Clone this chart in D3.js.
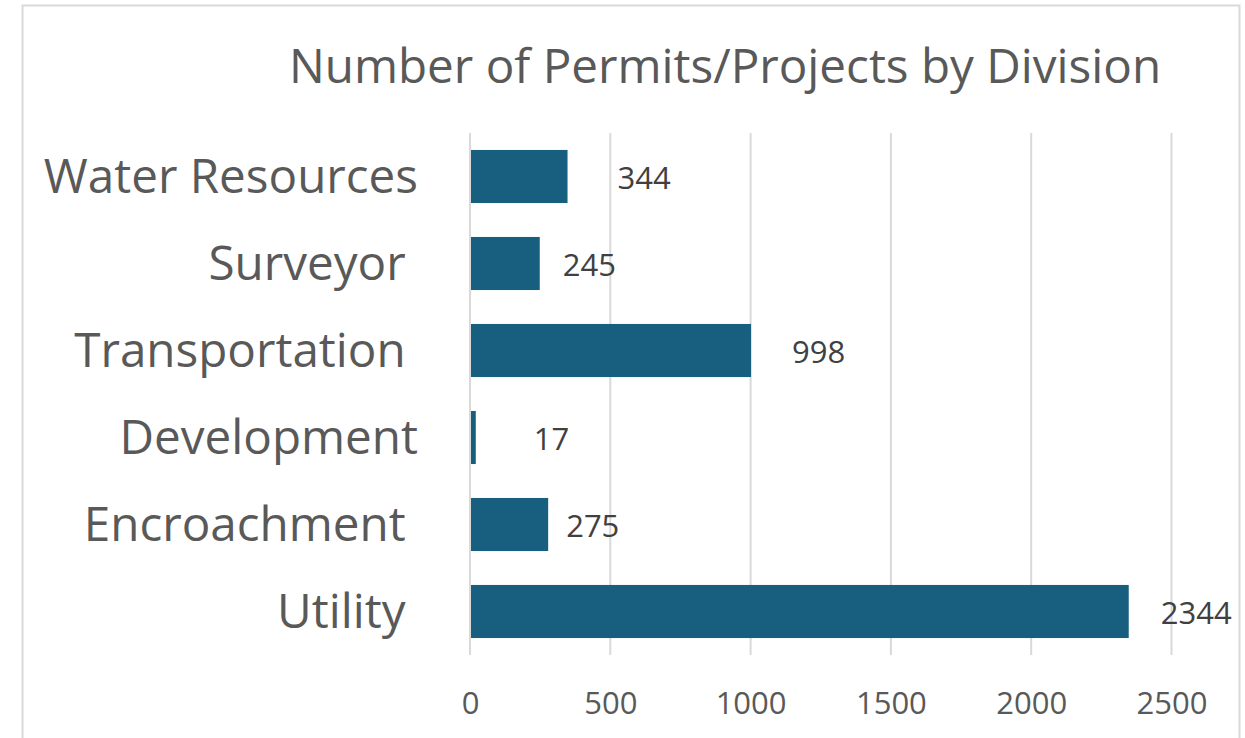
<!DOCTYPE html>
<html>
<head>
<meta charset="utf-8">
<script src="https://cdn.jsdelivr.net/npm/d3@7"></script>
<style>
  body { margin: 0; background: #fff; }
  svg text { font-family: "Open Sans", sans-serif; white-space: pre; }
</style>
</head>
<body>
<div id="chart"></div>
<script>
// data (top to bottom)
var divisions = ["Water Resources", "Surveyor ", "Transportation ", "Development", "Encroachment ", "Utility "];
var permits = [344, 245, 998, 17, 275, 2344];
var xTicks = [0, 500, 1000, 1500, 2000, 2500];
var title = "Number of Permits/Projects by Division";
// data labels were dragged by hand in the original, gap from bar end in px
var labelGap = [51, 24, 42, 59, 19, 33];

var svgwidth = 1245,
    svgheight = 738,
    margin = {top: 133, right: 73, bottom: 83, left: 470};

var width = svgwidth - margin.left - margin.right,
    height = svgheight - margin.top - margin.bottom;

var svg = d3.select("#chart")
    .append("svg")
    .attr("width", svgwidth)
    .attr("height", svgheight);

// chart frame
svg.append("rect")
    .attr("x", 22.5)
    .attr("y", 5.5)
    .attr("width", 1217)
    .attr("height", 760)
    .attr("fill", "none")
    .attr("stroke", "#d9d9d9")
    .attr("stroke-width", 2);

var g = svg.append("g").attr("transform", "translate(" + margin.left + "," + margin.top + ")");

var x = d3.scaleLinear().domain([0, 2500]).range([0, 701.5]);
var y = d3.scaleBand().domain(divisions).range([0, height]).paddingInner(0.39).paddingOuter(0.195);

// gridlines
g.append("g")
    .attr("class", "grid")
    .selectAll("line")
    .data(xTicks)
    .enter().append("line")
    .attr("x1", function(d) { return x(d); })
    .attr("x2", function(d) { return x(d); })
    .attr("y1", 0)
    .attr("y2", height)
    .attr("stroke", "#d9d9d9")
    .attr("stroke-width", 2);

// x axis, labels only
var xAxis = g.append("g")
    .attr("transform", "translate(0," + height + ")")
    .call(d3.axisBottom(x).tickValues(xTicks).tickSize(0).tickPadding(0).tickFormat(d3.format("d")));
xAxis.select(".domain").remove();
xAxis.selectAll("text")
    .attr("y", 59)
    .attr("dy", 0)
    .attr("fill", "#595959")
    .style("font-size", "31px");

// y axis, labels only
var yAxis = g.append("g")
    .call(d3.axisLeft(y).tickSize(0).tickPadding(52));
yAxis.select(".domain").remove();
yAxis.selectAll("text")
    .attr("dy", "0.35em")
    .attr("fill", "#595959")
    .style("font-size", "47.6px");

// bars
g.selectAll(".bar")
    .data(permits)
    .enter().append("rect")
    .attr("class", "bar")
    .attr("x", x(0) + 1)
    .attr("y", function(d, i) { return y(divisions[i]); })
    .attr("width", function(d) { return x(d) - x(0); })
    .attr("height", y.bandwidth())
    .attr("fill", "#175e7f");

// value labels
g.selectAll(".value")
    .data(permits)
    .enter().append("text")
    .attr("class", "value")
    .attr("x", function(d, i) { return x(d) + labelGap[i]; })
    .attr("y", function(d, i) { return y(divisions[i]) + y.bandwidth() / 2 + 1.5; })
    .attr("dy", "0.35em")
    .attr("fill", "#404040")
    .style("font-size", "31px")
    .text(function(d) { return d; });

// title
svg.append("text")
    .attr("x", 725)
    .attr("y", 83)
    .attr("text-anchor", "middle")
    .attr("fill", "#595959")
    .style("font-size", "47.6px")
    .text(title);
</script>
</body>
</html>
